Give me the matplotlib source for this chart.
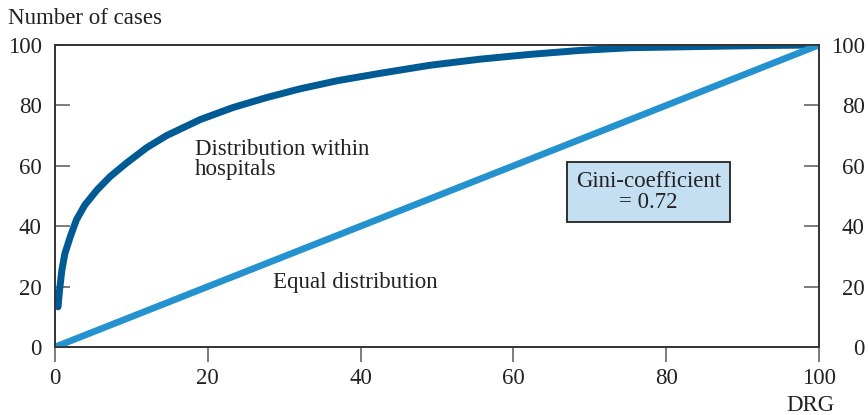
import matplotlib
matplotlib.use("Agg")
import matplotlib.pyplot as plt

plt.rcParams['font.family'] = ['Liberation Serif', 'DejaVu Serif']

# Data
drg_share = [0.4, 0.6, 0.9, 1.3, 2.0, 2.8, 3.9, 5.5, 7.2, 9.4, 12.0, 14.6, 19.0, 23.3,
             27.7, 32.1, 37.0, 42.5, 49.1, 55.6, 62.2, 68.7, 75.3, 84.4, 92.0, 100.0]
cases_share = [13.3, 18.9, 25.5, 31.0, 36.5, 42.1, 47.0, 52.0, 56.4, 61.0, 66.0, 70.0, 75.3, 79.3,
               82.6, 85.5, 88.2, 90.6, 93.3, 95.3, 96.9, 98.2, 99.1, 99.5, 99.8, 100.0]
equal_x = [0, 100]
equal_y = [0, 100]
ticks = [0, 20, 40, 60, 80, 100]

dark = '#005a94'
light = '#2592d0'
axc = '#333333'
fs = 16.5

fig = plt.figure(figsize=(8.68, 4.15), dpi=100)
ax = fig.add_axes([55/868, 68/415, (819-55)/868, (347-45)/415])

ax.plot(drg_share, cases_share, color=dark, lw=5.0, solid_capstyle='round',
        solid_joinstyle='round', zorder=2)
ax.plot(equal_x, equal_y, color=light, lw=4.8, solid_capstyle='round', zorder=3)

ax.set_xlim(0, 100)
ax.set_ylim(0, 100)
ax.set_xticks(ticks)
ax.set_yticks(ticks)
ax.set_xticklabels([str(t) for t in ticks])
ax.set_yticklabels([str(t) for t in ticks])

for s in ax.spines.values():
    s.set_color(axc)
    s.set_linewidth(1.2)

ax.tick_params(axis='y', direction='in', length=11, width=1.2, color='#666666',
               labelsize=fs, labelcolor='#222222', left=True, right=False,
               labelleft=True, labelright=False, pad=9.5)
ax.tick_params(axis='x', direction='out', length=11, width=1.2, color='#666666',
               labelsize=fs, labelcolor='#222222', pad=4)

# right-hand axis (labels right-aligned near the figure edge)
axr = ax.twinx()
axr.set_ylim(0, 100)
axr.set_yticks(ticks)
axr.set_yticklabels([str(t) for t in ticks], ha='right')
axr.tick_params(axis='y', direction='in', length=11, width=1.2, color='#666666',
                labelsize=fs, labelcolor='#222222', pad=33)
for s in axr.spines.values():
    s.set_color(axc)
    s.set_linewidth(1.2)

fig.text(8/868, 1 - 18/415, 'Number of cases', fontsize=fs, color='#222222',
         ha='left', va='center')
fig.text(834/868, 1 - 405/415, 'DRG', fontsize=fs, color='#222222',
         ha='right', va='center')

ax.text(18.3, 62.2, 'Distribution within\nhospitals', fontsize=fs, color='#222222',
        ha='left', va='center', linespacing=0.95)
ax.text(28.5, 21.5, 'Equal distribution', fontsize=fs, color='#222222',
        ha='left', va='center')
ax.text(77.7, 51.4, 'Gini-coefficient\n= 0.72', fontsize=fs, color='#222222',
        ha='center', va='center', linespacing=1.0,
        bbox=dict(boxstyle='square,pad=0.4', facecolor='#c5dff2',
                  edgecolor='#222222', linewidth=1.3))

fig.savefig('out.png', dpi=100)
